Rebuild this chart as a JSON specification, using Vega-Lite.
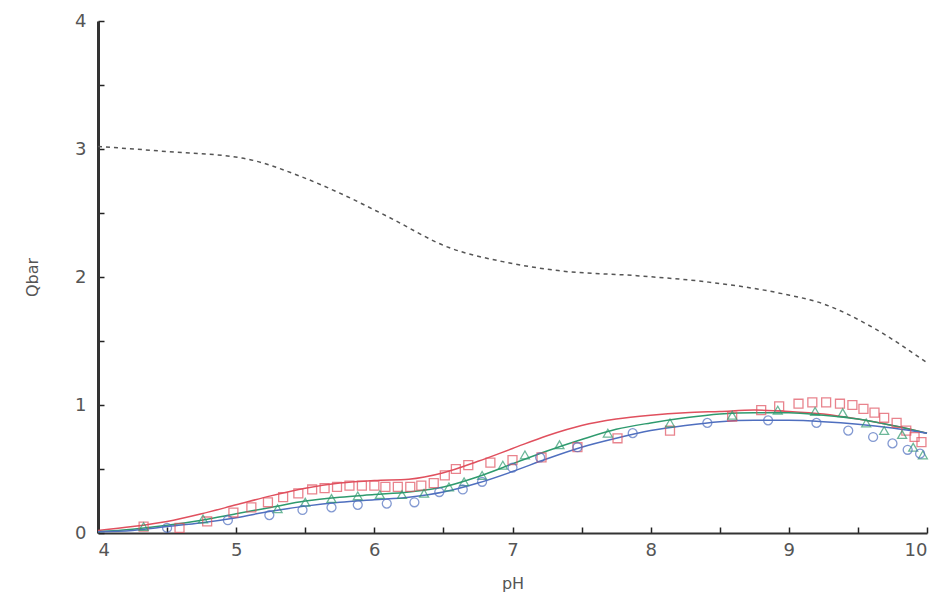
{
  "$schema": "https://vega.github.io/schema/vega-lite/v6.json",
  "width": 829,
  "height": 512,
  "autosize": {"type": "none"},
  "padding": {"left": 98, "top": 21, "right": 17, "bottom": 62},
  "background": "white",
  "config": {
    "view": {"stroke": null},
    "axis": {"labelFont": "DejaVu Sans", "titleFont": "DejaVu Sans", "labelColor": "#555", "titleColor": "#555", "grid": false, "domainColor": "#333", "tickColor": "#222"}
  },
  "datasets": {
    "dashed": [
      {"pH": 4.0, "Q": 3.02}, {"pH": 4.5, "Q": 2.98}, {"pH": 5.04, "Q": 2.93}, {"pH": 5.48, "Q": 2.78},
      {"pH": 5.74, "Q": 2.66}, {"pH": 6.1, "Q": 2.47}, {"pH": 6.54, "Q": 2.23}, {"pH": 6.93, "Q": 2.12},
      {"pH": 7.33, "Q": 2.05}, {"pH": 7.9, "Q": 2.01}, {"pH": 8.42, "Q": 1.96}, {"pH": 8.95, "Q": 1.87},
      {"pH": 9.25, "Q": 1.79}, {"pH": 9.6, "Q": 1.61}, {"pH": 10.0, "Q": 1.33}
    ],
    "lines": [
      {"s": "A", "pH": 4.0, "Q": 0.02}, {"s": "A", "pH": 4.25, "Q": 0.05}, {"s": "A", "pH": 4.5, "Q": 0.09}, {"s": "A", "pH": 4.75, "Q": 0.15},
      {"s": "A", "pH": 5.0, "Q": 0.22}, {"s": "A", "pH": 5.25, "Q": 0.29}, {"s": "A", "pH": 5.5, "Q": 0.35}, {"s": "A", "pH": 5.75, "Q": 0.39},
      {"s": "A", "pH": 6.0, "Q": 0.41}, {"s": "A", "pH": 6.25, "Q": 0.42}, {"s": "A", "pH": 6.5, "Q": 0.47}, {"s": "A", "pH": 6.75, "Q": 0.56},
      {"s": "A", "pH": 7.0, "Q": 0.66}, {"s": "A", "pH": 7.25, "Q": 0.76}, {"s": "A", "pH": 7.5, "Q": 0.84}, {"s": "A", "pH": 7.75, "Q": 0.89},
      {"s": "A", "pH": 8.0, "Q": 0.92}, {"s": "A", "pH": 8.25, "Q": 0.94}, {"s": "A", "pH": 8.5, "Q": 0.95}, {"s": "A", "pH": 8.75, "Q": 0.96},
      {"s": "A", "pH": 9.0, "Q": 0.95}, {"s": "A", "pH": 9.25, "Q": 0.93}, {"s": "A", "pH": 9.5, "Q": 0.89}, {"s": "A", "pH": 9.75, "Q": 0.84},
      {"s": "A", "pH": 10.0, "Q": 0.78},
      {"s": "B", "pH": 4.0, "Q": 0.01}, {"s": "B", "pH": 4.25, "Q": 0.03}, {"s": "B", "pH": 4.5, "Q": 0.06}, {"s": "B", "pH": 4.75, "Q": 0.10},
      {"s": "B", "pH": 5.0, "Q": 0.15}, {"s": "B", "pH": 5.25, "Q": 0.20}, {"s": "B", "pH": 5.5, "Q": 0.25}, {"s": "B", "pH": 5.75, "Q": 0.28},
      {"s": "B", "pH": 6.0, "Q": 0.30}, {"s": "B", "pH": 6.25, "Q": 0.32}, {"s": "B", "pH": 6.5, "Q": 0.36}, {"s": "B", "pH": 6.75, "Q": 0.44},
      {"s": "B", "pH": 7.0, "Q": 0.54}, {"s": "B", "pH": 7.25, "Q": 0.64}, {"s": "B", "pH": 7.5, "Q": 0.73}, {"s": "B", "pH": 7.75, "Q": 0.81},
      {"s": "B", "pH": 8.0, "Q": 0.86}, {"s": "B", "pH": 8.25, "Q": 0.90}, {"s": "B", "pH": 8.5, "Q": 0.93}, {"s": "B", "pH": 8.75, "Q": 0.94},
      {"s": "B", "pH": 9.0, "Q": 0.94}, {"s": "B", "pH": 9.25, "Q": 0.92}, {"s": "B", "pH": 9.5, "Q": 0.89}, {"s": "B", "pH": 9.75, "Q": 0.84},
      {"s": "B", "pH": 10.0, "Q": 0.78},
      {"s": "C", "pH": 4.0, "Q": 0.01}, {"s": "C", "pH": 4.25, "Q": 0.02}, {"s": "C", "pH": 4.5, "Q": 0.05}, {"s": "C", "pH": 4.75, "Q": 0.08},
      {"s": "C", "pH": 5.0, "Q": 0.12}, {"s": "C", "pH": 5.25, "Q": 0.17}, {"s": "C", "pH": 5.5, "Q": 0.21}, {"s": "C", "pH": 5.75, "Q": 0.24},
      {"s": "C", "pH": 6.0, "Q": 0.26}, {"s": "C", "pH": 6.25, "Q": 0.28}, {"s": "C", "pH": 6.5, "Q": 0.32}, {"s": "C", "pH": 6.75, "Q": 0.39},
      {"s": "C", "pH": 7.0, "Q": 0.48}, {"s": "C", "pH": 7.25, "Q": 0.58}, {"s": "C", "pH": 7.5, "Q": 0.67}, {"s": "C", "pH": 7.75, "Q": 0.74},
      {"s": "C", "pH": 8.0, "Q": 0.80}, {"s": "C", "pH": 8.25, "Q": 0.84}, {"s": "C", "pH": 8.5, "Q": 0.87}, {"s": "C", "pH": 8.75, "Q": 0.88},
      {"s": "C", "pH": 9.0, "Q": 0.88}, {"s": "C", "pH": 9.25, "Q": 0.87}, {"s": "C", "pH": 9.5, "Q": 0.85}, {"s": "C", "pH": 9.75, "Q": 0.82},
      {"s": "C", "pH": 10.0, "Q": 0.78}
    ],
    "points": [
      {"s": "A", "pH": 4.33, "Q": 0.05}, {"s": "A", "pH": 4.59, "Q": 0.04}, {"s": "A", "pH": 4.79, "Q": 0.09}, {"s": "A", "pH": 4.98, "Q": 0.16},
      {"s": "A", "pH": 5.11, "Q": 0.20}, {"s": "A", "pH": 5.23, "Q": 0.24}, {"s": "A", "pH": 5.34, "Q": 0.28}, {"s": "A", "pH": 5.45, "Q": 0.31},
      {"s": "A", "pH": 5.55, "Q": 0.34}, {"s": "A", "pH": 5.64, "Q": 0.35}, {"s": "A", "pH": 5.73, "Q": 0.36}, {"s": "A", "pH": 5.82, "Q": 0.37},
      {"s": "A", "pH": 5.91, "Q": 0.37}, {"s": "A", "pH": 6.0, "Q": 0.37}, {"s": "A", "pH": 6.08, "Q": 0.36}, {"s": "A", "pH": 6.17, "Q": 0.36},
      {"s": "A", "pH": 6.26, "Q": 0.36}, {"s": "A", "pH": 6.34, "Q": 0.37}, {"s": "A", "pH": 6.43, "Q": 0.39}, {"s": "A", "pH": 6.51, "Q": 0.45},
      {"s": "A", "pH": 6.59, "Q": 0.50}, {"s": "A", "pH": 6.68, "Q": 0.53}, {"s": "A", "pH": 6.84, "Q": 0.55}, {"s": "A", "pH": 7.0, "Q": 0.57},
      {"s": "A", "pH": 7.21, "Q": 0.59}, {"s": "A", "pH": 7.47, "Q": 0.67}, {"s": "A", "pH": 7.76, "Q": 0.74}, {"s": "A", "pH": 8.14, "Q": 0.80},
      {"s": "A", "pH": 8.59, "Q": 0.91}, {"s": "A", "pH": 8.8, "Q": 0.96}, {"s": "A", "pH": 8.93, "Q": 0.99}, {"s": "A", "pH": 9.07, "Q": 1.01},
      {"s": "A", "pH": 9.17, "Q": 1.02}, {"s": "A", "pH": 9.27, "Q": 1.02}, {"s": "A", "pH": 9.37, "Q": 1.01}, {"s": "A", "pH": 9.46, "Q": 1.0},
      {"s": "A", "pH": 9.54, "Q": 0.97}, {"s": "A", "pH": 9.62, "Q": 0.94}, {"s": "A", "pH": 9.69, "Q": 0.9}, {"s": "A", "pH": 9.78, "Q": 0.86},
      {"s": "A", "pH": 9.85, "Q": 0.8}, {"s": "A", "pH": 9.91, "Q": 0.75}, {"s": "A", "pH": 9.96, "Q": 0.71},
      {"s": "B", "pH": 4.33, "Q": 0.05}, {"s": "B", "pH": 4.76, "Q": 0.11}, {"s": "B", "pH": 5.3, "Q": 0.19}, {"s": "B", "pH": 5.5, "Q": 0.24},
      {"s": "B", "pH": 5.69, "Q": 0.27}, {"s": "B", "pH": 5.88, "Q": 0.29}, {"s": "B", "pH": 6.04, "Q": 0.30}, {"s": "B", "pH": 6.2, "Q": 0.30},
      {"s": "B", "pH": 6.36, "Q": 0.31}, {"s": "B", "pH": 6.54, "Q": 0.36}, {"s": "B", "pH": 6.65, "Q": 0.40}, {"s": "B", "pH": 6.78, "Q": 0.45},
      {"s": "B", "pH": 6.93, "Q": 0.53}, {"s": "B", "pH": 7.09, "Q": 0.61}, {"s": "B", "pH": 7.34, "Q": 0.69}, {"s": "B", "pH": 7.69, "Q": 0.78},
      {"s": "B", "pH": 8.14, "Q": 0.86}, {"s": "B", "pH": 8.59, "Q": 0.92}, {"s": "B", "pH": 8.92, "Q": 0.96}, {"s": "B", "pH": 9.19, "Q": 0.95},
      {"s": "B", "pH": 9.39, "Q": 0.94}, {"s": "B", "pH": 9.56, "Q": 0.86}, {"s": "B", "pH": 9.69, "Q": 0.80}, {"s": "B", "pH": 9.82, "Q": 0.77},
      {"s": "B", "pH": 9.9, "Q": 0.67}, {"s": "B", "pH": 9.97, "Q": 0.61},
      {"s": "C", "pH": 4.5, "Q": 0.04}, {"s": "C", "pH": 4.94, "Q": 0.10}, {"s": "C", "pH": 5.24, "Q": 0.14}, {"s": "C", "pH": 5.48, "Q": 0.18},
      {"s": "C", "pH": 5.69, "Q": 0.20}, {"s": "C", "pH": 5.88, "Q": 0.22}, {"s": "C", "pH": 6.09, "Q": 0.23}, {"s": "C", "pH": 6.29, "Q": 0.24},
      {"s": "C", "pH": 6.47, "Q": 0.32}, {"s": "C", "pH": 6.64, "Q": 0.34}, {"s": "C", "pH": 6.78, "Q": 0.40}, {"s": "C", "pH": 7.0, "Q": 0.51},
      {"s": "C", "pH": 7.2, "Q": 0.59}, {"s": "C", "pH": 7.47, "Q": 0.67}, {"s": "C", "pH": 7.87, "Q": 0.78}, {"s": "C", "pH": 8.41, "Q": 0.86},
      {"s": "C", "pH": 8.85, "Q": 0.88}, {"s": "C", "pH": 9.2, "Q": 0.86}, {"s": "C", "pH": 9.43, "Q": 0.80}, {"s": "C", "pH": 9.61, "Q": 0.75},
      {"s": "C", "pH": 9.75, "Q": 0.70}, {"s": "C", "pH": 9.86, "Q": 0.65}, {"s": "C", "pH": 9.95, "Q": 0.62}
    ]
  },
  "encoding": {
    "x": {
      "field": "pH", "type": "quantitative",
      "scale": {"domain": [4, 10], "nice": false, "zero": false},
      "axis": {
        "title": "pH", "titleFontSize": 16, "titleFontWeight": "normal", "titlePadding": 16,
        "values": [4, 4.5, 5, 5.5, 6, 6.5, 7, 7.5, 8, 8.5, 9, 9.5, 10],
        "labelExpr": "datum.value % 1 == 0 ? format(datum.value, 'd') : ''",
        "labelFontSize": 18, "labelPadding": 14, "ticks": true, "tickSize": -6, "tickWidth": 1.5, "domainWidth": 2
      }
    },
    "y": {
      "field": "Q", "type": "quantitative",
      "scale": {"domain": [0, 4], "nice": false},
      "axis": {
        "title": "Qbar", "titleFontSize": 16, "titleFontWeight": "normal", "titlePadding": 34,
        "values": [0, 0.5, 1, 1.5, 2, 2.5, 3, 3.5, 4],
        "labelExpr": "datum.value % 1 == 0 ? format(datum.value, 'd') : ''",
        "labelFontSize": 18, "labelPadding": 18, "ticks": true, "tickSize": -6, "tickWidth": 1.5, "domainWidth": 3
      }
    }
  },
  "layer": [
    {
      "data": {"name": "dashed"},
      "mark": {"type": "line", "interpolate": "monotone", "color": "#555", "strokeWidth": 1.5, "strokeDash": [4, 4]}
    },
    {
      "data": {"name": "lines"},
      "mark": {"type": "line", "interpolate": "monotone", "strokeWidth": 1.5},
      "encoding": {
        "color": {"field": "s", "type": "nominal", "legend": null, "scale": {"domain": ["A", "B", "C"], "range": ["#e0505e", "#2e9a6e", "#4f6fbf"]}}
      }
    },
    {
      "data": {"name": "points"},
      "mark": {"type": "point", "filled": false, "size": 80, "strokeWidth": 1.3},
      "encoding": {
        "color": {"field": "s", "type": "nominal", "legend": null, "scale": {"domain": ["A", "B", "C"], "range": ["#d8485a", "#2e9a6e", "#4a6690"]}},
        "shape": {"field": "s", "type": "nominal", "legend": null, "scale": {"domain": ["A", "B", "C"], "range": ["square", "triangle-up", "circle"]}}
      }
    }
  ]
}
